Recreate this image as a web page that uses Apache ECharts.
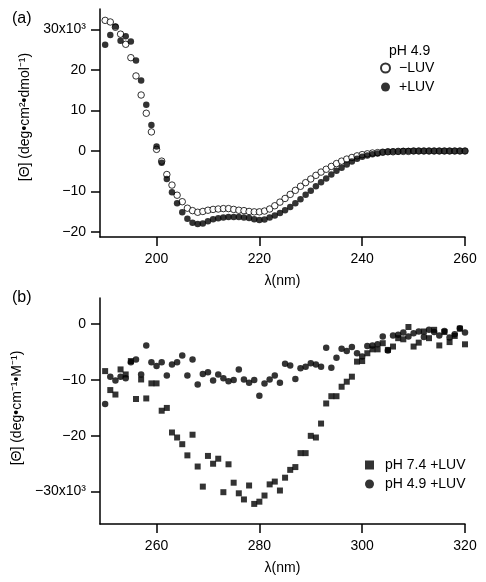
<!DOCTYPE html>
<html><head><meta charset="utf-8">
<script src="https://cdn.jsdelivr.net/npm/echarts@6/dist/echarts.min.js"></script>
<style>html,body{margin:0;padding:0;background:#fff}#c{width:486px;height:582px}</style>
</head><body><div id="c"></div>
<script>
// Panel (a): pH 4.9, −LUV (open) and +LUV (filled)
const wavelengthA = [190,191,192,193,194,195,196,197,198,199,200,201,202,203,204,205,206,207,208,209,210,211,212,213,214,215,216,217,218,219,220,221,222,223,224,225,226,227,228,229,230,231,232,233,234,235,236,237,238,239,240,241,242,243,244,245,246,247,248,249,250,251,252,253,254,255,256,257,258,259,260];
const minusLUV = [32.2,31.8,30.5,28.8,26.3,23.0,18.5,13.8,9.3,4.7,0.4,-2.5,-5.8,-8.4,-10.9,-12.5,-14.1,-14.7,-15.1,-14.9,-14.6,-14.4,-14.3,-14.2,-14.2,-14.4,-14.6,-14.7,-14.9,-15.0,-15.0,-14.8,-14.3,-13.5,-12.6,-11.7,-10.7,-9.7,-8.7,-7.8,-6.9,-6.0,-5.2,-4.5,-3.8,-3.1,-2.5,-2.0,-1.6,-1.2,-0.9,-0.7,-0.5,-0.4,-0.3,-0.2,-0.2,-0.1,-0.1,-0.1,0,0,0,0,0,0,0,0,0,0,0];
const plusLUV = [26.2,28.6,30.7,27.2,28.3,27.0,22.3,17.4,11.4,6.4,1.1,-2.9,-6.9,-10.2,-12.9,-15.1,-16.7,-17.7,-18.0,-17.9,-17.3,-16.8,-16.6,-16.4,-16.3,-16.3,-16.3,-16.4,-16.5,-16.8,-17.0,-16.9,-16.4,-15.9,-15.3,-14.6,-13.8,-12.9,-11.9,-10.8,-9.8,-8.7,-7.7,-6.8,-5.8,-4.9,-4.1,-3.3,-2.6,-1.9,-1.4,-1.1,-0.8,-0.6,-0.3,-0.2,-0.1,-0.1,0,0,0,0,0,0,0,0,0,0,0,0,0];

// Panel (b): near-UV CD, +LUV at pH 7.4 (squares) and pH 4.9 (circles)
const wavelengthB = [250,251,252,253,254,255,256,257,258,259,260,261,262,263,264,265,266,267,268,269,270,271,272,273,274,275,276,277,278,279,280,281,282,283,284,285,286,287,288,289,290,291,292,293,294,295,296,297,298,299,300,301,302,303,304,305,306,307,308,309,310,311,312,313,314,315,316,317,318,319,320];
const pH74LUV = [-8.4,-11.8,-12.6,-8.1,-9.0,-6.6,-13.4,-9.9,-13.3,-10.6,-10.6,-15.5,-15.0,-19.4,-20.3,-21.5,-23.5,-19.8,-25.5,-29.1,-23.6,-25.0,-24.1,-30.1,-25.1,-28.4,-30.3,-31.4,-28.9,-32.2,-31.8,-30.7,-28.7,-28.2,-29.8,-27.5,-26.1,-25.6,-23.1,-23.1,-20.0,-20.3,-17.8,-14.2,-12.9,-12.9,-11.2,-10.3,-9.4,-6.7,-6.6,-5.2,-4.5,-4.5,-3.4,-4.6,-4.0,-2.5,-2.7,-0.5,-4.0,-3.3,-1.3,-2.5,-1.0,-3.8,-1.4,-3.2,-2.1,-0.8,-3.6];
const pH49LUV = [-14.3,-9.4,-10.1,-9.4,-9.7,-6.8,-6.3,-9.0,-3.8,-6.8,-7.5,-6.8,-9.2,-7.2,-6.8,-5.6,-9.2,-6.3,-10.8,-8.9,-8.6,-10.1,-9.0,-9.7,-10.2,-10.0,-8.1,-9.9,-10.5,-10.0,-12.8,-10.6,-9.9,-9.2,-10.5,-7.1,-7.4,-9.8,-7.9,-7.6,-7.0,-7.2,-7.6,-4.2,-7.8,-6.0,-4.4,-4.8,-4.1,-5.2,-5.8,-3.9,-3.8,-3.6,-2.2,-4.7,-2.0,-1.9,-1.5,-2.2,-1.6,-1.3,-2.3,-1.0,-1.4,-2.0,-1.2,-2.4,-1.8,-0.7,-1.5];

// Tick values
const ticksAx = [200,220,240,260];
const ticksAy = [-20,-10,0,10,20,30];
const ticksBx = [260,280,300,320];
const ticksBy = [-30,-20,-10,0];

const FONT = '"Liberation Sans", Arial, Helvetica, sans-serif';
function pairs(xs, ys){ return xs.map((x,i)=>[x, ys[i]]); }
function yFmt(v){
  const s = (v < 0 ? '\u2212' : '') + Math.abs(v);
  return Math.abs(v) === 30 ? s + 'x10\u00B3' : s;
}
function xAxisCfg(idx, min, max, ticks){
  return {
    type:'value', gridIndex:idx, min:min, max:max,
    name:'\u03BB(nm)', nameLocation:'middle', nameGap:37,
    nameTextStyle:{color:'#000', fontSize:14, fontFamily:FONT},
    axisLine:{show:true, onZero:false, lineStyle:{color:'#000', width:1.5}},
    axisTick:{show:true, length:9, customValues:ticks, lineStyle:{color:'#000', width:1.5}},
    axisLabel:{customValues:ticks, color:'#000', fontSize:14, fontFamily:FONT, margin:15},
    splitLine:{show:false}
  };
}
function yAxisCfg(idx, min, max, ticks, name, shift){
  return {
    type:'value', gridIndex:idx, min:min, max:max,
    name:name, nameLocation:'middle', nameRotate:90, nameGap:60,
    nameTextStyle:{color:'#000', fontSize:14, fontFamily:FONT, padding:[0,0,0,shift]},
    axisLine:{show:true, onZero:false, lineStyle:{color:'#000', width:1.5}},
    axisTick:{show:true, length:9, customValues:ticks, lineStyle:{color:'#000', width:1.5}},
    axisLabel:{customValues:ticks, color:'#000', fontSize:14, fontFamily:FONT, margin:14, formatter:yFmt},
    splitLine:{show:false}
  };
}

const chart = echarts.init(document.getElementById('c'), null, {renderer:'canvas'});
chart.setOption({
  animation:false,
  backgroundColor:'#fff',
  textStyle:{fontFamily:FONT},
  title:[
    {text:'(a)', left:12, top:11, padding:0, textStyle:{fontSize:16, fontWeight:'normal', color:'#000', fontFamily:FONT}},
    {text:'(b)', left:12, top:290, padding:0, textStyle:{fontSize:16, fontWeight:'normal', color:'#000', fontFamily:FONT}},
    {text:'pH 4.9', left:389, top:44, padding:0, textStyle:{fontSize:14, fontWeight:'normal', color:'#000', fontFamily:FONT}}
  ],
  legend:[
    {data:['\u2212LUV','+LUV'], orient:'vertical', left:380, top:61, padding:0, itemGap:5,
     itemWidth:9, itemHeight:9, textStyle:{fontSize:14, color:'#000', fontFamily:FONT, padding:[0,0,0,4]}},
    {data:['pH 7.4 +LUV','pH 4.9 +LUV'], orient:'vertical', left:365, top:458, padding:0, itemGap:5,
     itemWidth:9, itemHeight:9, textStyle:{fontSize:14, color:'#000', fontFamily:FONT, padding:[0,0,0,6]}}
  ],
  grid:[
    {left:100, top:9, width:365, height:228},
    {left:100, top:298, width:365, height:226}
  ],
  xAxis:[ xAxisCfg(0, 189, 260, ticksAx), xAxisCfg(1, 249, 320, ticksBx) ],
  yAxis:[
    yAxisCfg(0, -21.2, 35, ticksAy, '[\u0398] (deg\u2022cm\u00B2\u2022dmol\u207B\u00B9)', 12),
    yAxisCfg(1, -35.8, 4.7, ticksBy, '[\u0398] (deg\u2022cm\u207B\u00B9\u2022M\u207B\u00B9)', 6)
  ],
  series:[
    {name:'\u2212LUV', type:'scatter', xAxisIndex:0, yAxisIndex:0, symbol:'circle', symbolSize:6.5,
     itemStyle:{color:'#fff', borderColor:'#000', borderWidth:1}, data:pairs(wavelengthA, minusLUV)},
    {name:'+LUV', type:'scatter', xAxisIndex:0, yAxisIndex:0, symbol:'circle', symbolSize:6.5,
     itemStyle:{color:'#000'}, data:pairs(wavelengthA, plusLUV)},
    {name:'pH 7.4 +LUV', type:'scatter', xAxisIndex:1, yAxisIndex:1, symbol:'rect', symbolSize:6,
     itemStyle:{color:'#000'}, data:pairs(wavelengthB, pH74LUV)},
    {name:'pH 4.9 +LUV', type:'scatter', xAxisIndex:1, yAxisIndex:1, symbol:'circle', symbolSize:6.5,
     itemStyle:{color:'#000'}, data:pairs(wavelengthB, pH49LUV)}
  ]
});
</script>
</body></html>
